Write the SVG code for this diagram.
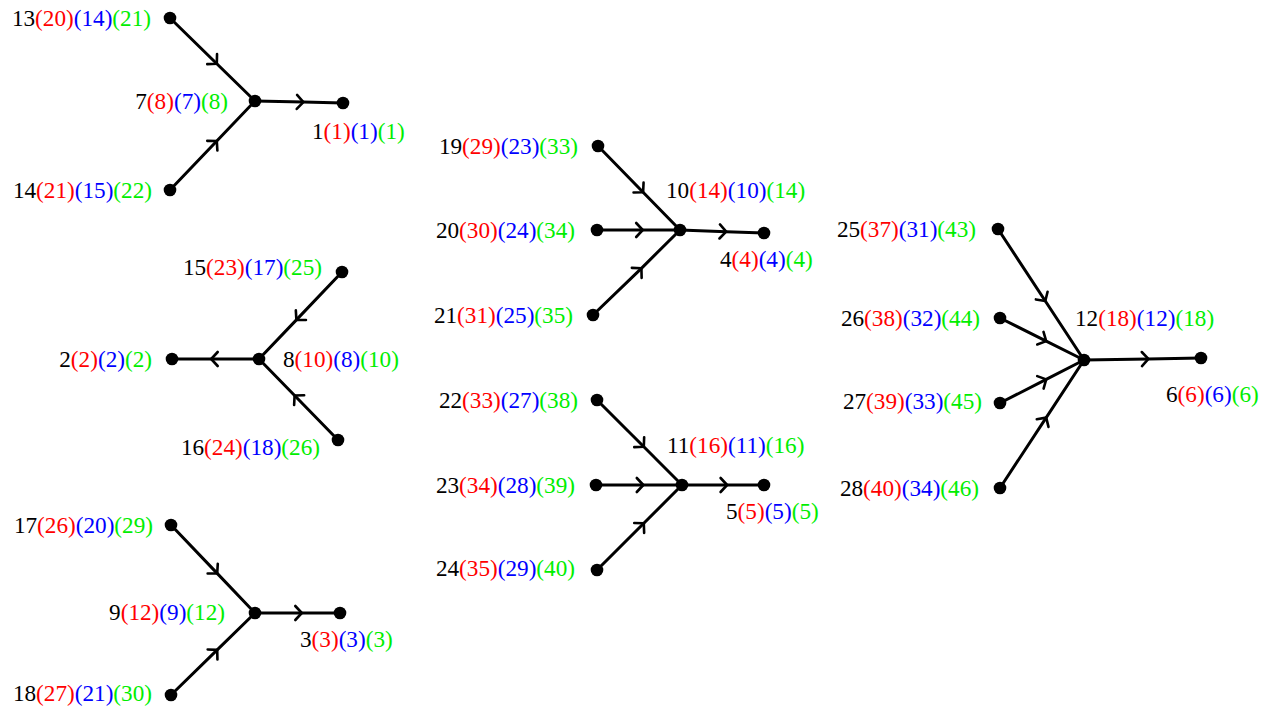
<svg xmlns="http://www.w3.org/2000/svg" width="1270" height="707" viewBox="0 0 1270 707">
<style>
text{font-family:"Liberation Serif","Times New Roman",serif;font-size:23.2px;fill:#000}
.r{fill:#ff0000}.b{fill:#0000ff}.g{fill:#00ee00}
.e{fill:none;stroke:#000;stroke-width:3;marker-mid:url(#ch)}
.n{fill:#000}
.L{text-anchor:end}
</style>
<defs>
<marker id="ch" markerUnits="userSpaceOnUse" markerWidth="20" markerHeight="20" refX="10" refY="10" orient="auto" viewBox="0 0 20 20">
<path d="M3.5 3 L10 10 L3.5 17" fill="none" stroke="#000" stroke-width="2.6" stroke-linecap="round" stroke-linejoin="round"/>
</marker>
</defs>
<g id="connectors">
<path class="e" d="M170 18 L216.8 63.7 L255 101"/>
<path class="e" d="M170 190 L216.8 141 L255 101"/>
<path class="e" d="M255 101 L303.4 102.1 L343 103"/>
<path class="e" d="M342 272 L296.4 319.9 L259 359"/>
<path class="e" d="M338 440 L294.6 395.5 L259 359"/>
<path class="e" d="M259 359 L211.2 359 L172 359"/>
<path class="e" d="M171 525 L217.2 573.4 L255 613"/>
<path class="e" d="M171 695 L217.2 649.9 L255 613"/>
<path class="e" d="M255 613 L301.8 613 L340 613"/>
<path class="e" d="M598 146 L643.1 192.2 L680 230"/>
<path class="e" d="M597 230 L642.7 230 L680 230"/>
<path class="e" d="M593 315 L641.4 268.3 L680 230"/>
<path class="e" d="M680 230 L726.2 231.7 L764 233"/>
<path class="e" d="M597 400 L643.8 446.8 L682 485"/>
<path class="e" d="M596 485 L643.3 485 L682 485"/>
<path class="e" d="M597 570 L643.8 523.3 L682 485"/>
<path class="e" d="M682 485 L727.1 485 L764 485"/>
<path class="e" d="M998 229 L1045.3 301 L1084 360"/>
<path class="e" d="M1000 318 L1046.2 341.1 L1084 360"/>
<path class="e" d="M1000 403 L1046.2 379.4 L1084 360"/>
<path class="e" d="M1000 488 L1046.2 417.6 L1084 360"/>
<path class="e" d="M1084 360 L1148.4 358.9 L1201 358"/>
</g>
<g id="n1"><circle class="n" cx="343" cy="103" r="6.3"/><text x="312" y="139">1<tspan class="r">(1)</tspan><tspan class="b">(1)</tspan><tspan class="g">(1)</tspan></text></g>
<g id="n7"><circle class="n" cx="255" cy="101" r="6.3"/><text class="L" x="228" y="109">7<tspan class="r">(8)</tspan><tspan class="b">(7)</tspan><tspan class="g">(8)</tspan></text></g>
<g id="n13"><circle class="n" cx="170" cy="18" r="6.3"/><text class="L" x="151" y="26">13<tspan class="r">(20)</tspan><tspan class="b">(14)</tspan><tspan class="g">(21)</tspan></text></g>
<g id="n14"><circle class="n" cx="170" cy="190" r="6.3"/><text class="L" x="152" y="198">14<tspan class="r">(21)</tspan><tspan class="b">(15)</tspan><tspan class="g">(22)</tspan></text></g>
<g id="n2"><circle class="n" cx="172" cy="359" r="6.3"/><text class="L" x="152" y="367">2<tspan class="r">(2)</tspan><tspan class="b">(2)</tspan><tspan class="g">(2)</tspan></text></g>
<g id="n8"><circle class="n" cx="259" cy="359" r="6.3"/><text x="283" y="367">8<tspan class="r">(10)</tspan><tspan class="b">(8)</tspan><tspan class="g">(10)</tspan></text></g>
<g id="n15"><circle class="n" cx="342" cy="272" r="6.3"/><text class="L" x="322" y="275">15<tspan class="r">(23)</tspan><tspan class="b">(17)</tspan><tspan class="g">(25)</tspan></text></g>
<g id="n16"><circle class="n" cx="338" cy="440" r="6.3"/><text class="L" x="320" y="455">16<tspan class="r">(24)</tspan><tspan class="b">(18)</tspan><tspan class="g">(26)</tspan></text></g>
<g id="n3"><circle class="n" cx="340" cy="613" r="6.3"/><text x="300" y="647">3<tspan class="r">(3)</tspan><tspan class="b">(3)</tspan><tspan class="g">(3)</tspan></text></g>
<g id="n9"><circle class="n" cx="255" cy="613" r="6.3"/><text class="L" x="225" y="620">9<tspan class="r">(12)</tspan><tspan class="b">(9)</tspan><tspan class="g">(12)</tspan></text></g>
<g id="n17"><circle class="n" cx="171" cy="525" r="6.3"/><text class="L" x="153" y="533">17<tspan class="r">(26)</tspan><tspan class="b">(20)</tspan><tspan class="g">(29)</tspan></text></g>
<g id="n18"><circle class="n" cx="171" cy="695" r="6.3"/><text class="L" x="152" y="701">18<tspan class="r">(27)</tspan><tspan class="b">(21)</tspan><tspan class="g">(30)</tspan></text></g>
<g id="n4"><circle class="n" cx="764" cy="233" r="6.3"/><text x="720" y="267">4<tspan class="r">(4)</tspan><tspan class="b">(4)</tspan><tspan class="g">(4)</tspan></text></g>
<g id="n10"><circle class="n" cx="680" cy="230" r="6.3"/><text x="666" y="198">10<tspan class="r">(14)</tspan><tspan class="b">(10)</tspan><tspan class="g">(14)</tspan></text></g>
<g id="n19"><circle class="n" cx="598" cy="146" r="6.3"/><text class="L" x="578" y="154">19<tspan class="r">(29)</tspan><tspan class="b">(23)</tspan><tspan class="g">(33)</tspan></text></g>
<g id="n20"><circle class="n" cx="597" cy="230" r="6.3"/><text class="L" x="575" y="238">20<tspan class="r">(30)</tspan><tspan class="b">(24)</tspan><tspan class="g">(34)</tspan></text></g>
<g id="n21"><circle class="n" cx="593" cy="315" r="6.3"/><text class="L" x="573" y="323">21<tspan class="r">(31)</tspan><tspan class="b">(25)</tspan><tspan class="g">(35)</tspan></text></g>
<g id="n5"><circle class="n" cx="764" cy="485" r="6.3"/><text x="726" y="519">5<tspan class="r">(5)</tspan><tspan class="b">(5)</tspan><tspan class="g">(5)</tspan></text></g>
<g id="n11"><circle class="n" cx="682" cy="485" r="6.3"/><text x="667" y="453">11<tspan class="r">(16)</tspan><tspan class="b">(11)</tspan><tspan class="g">(16)</tspan></text></g>
<g id="n22"><circle class="n" cx="597" cy="400" r="6.3"/><text class="L" x="578" y="408">22<tspan class="r">(33)</tspan><tspan class="b">(27)</tspan><tspan class="g">(38)</tspan></text></g>
<g id="n23"><circle class="n" cx="596" cy="485" r="6.3"/><text class="L" x="575" y="493">23<tspan class="r">(34)</tspan><tspan class="b">(28)</tspan><tspan class="g">(39)</tspan></text></g>
<g id="n24"><circle class="n" cx="597" cy="570" r="6.3"/><text class="L" x="575" y="576">24<tspan class="r">(35)</tspan><tspan class="b">(29)</tspan><tspan class="g">(40)</tspan></text></g>
<g id="n6"><circle class="n" cx="1201" cy="358" r="6.3"/><text x="1166" y="402">6<tspan class="r">(6)</tspan><tspan class="b">(6)</tspan><tspan class="g">(6)</tspan></text></g>
<g id="n12"><circle class="n" cx="1084" cy="360" r="6.3"/><text x="1075" y="326">12<tspan class="r">(18)</tspan><tspan class="b">(12)</tspan><tspan class="g">(18)</tspan></text></g>
<g id="n25"><circle class="n" cx="998" cy="229" r="6.3"/><text class="L" x="976" y="237">25<tspan class="r">(37)</tspan><tspan class="b">(31)</tspan><tspan class="g">(43)</tspan></text></g>
<g id="n26"><circle class="n" cx="1000" cy="318" r="6.3"/><text class="L" x="980" y="326">26<tspan class="r">(38)</tspan><tspan class="b">(32)</tspan><tspan class="g">(44)</tspan></text></g>
<g id="n27"><circle class="n" cx="1000" cy="403" r="6.3"/><text class="L" x="982" y="409">27<tspan class="r">(39)</tspan><tspan class="b">(33)</tspan><tspan class="g">(45)</tspan></text></g>
<g id="n28"><circle class="n" cx="1000" cy="488" r="6.3"/><text class="L" x="979" y="496">28<tspan class="r">(40)</tspan><tspan class="b">(34)</tspan><tspan class="g">(46)</tspan></text></g>
</svg>
